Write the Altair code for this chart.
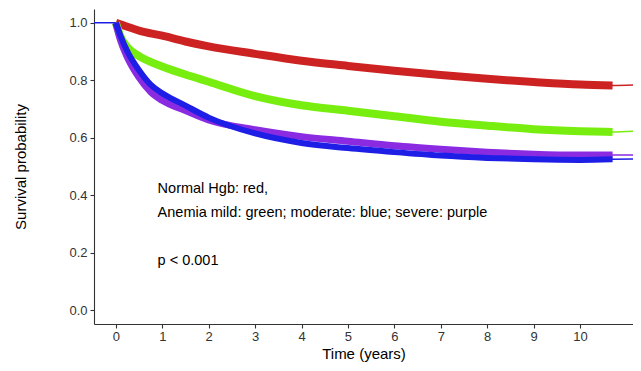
import altair as alt
import pandas as pd

# Kaplan-Meier curves (time in years, survival probability)
red_t = [0, 0.25, 0.5, 1, 1.5, 2, 3, 4, 5, 6, 7, 8, 9, 10, 10.7]
red_s = [1.0, 0.986, 0.973, 0.955, 0.935, 0.918, 0.892, 0.868, 0.850, 0.833, 0.818, 0.805, 0.794, 0.785, 0.782]

green_t = [0, 0.1, 0.25, 0.5, 0.75, 1, 1.5, 2, 3, 4, 5, 6, 7, 8, 9, 10, 10.7]
green_s = [1.0, 0.952, 0.915, 0.884, 0.864, 0.848, 0.820, 0.795, 0.745, 0.713, 0.694, 0.675, 0.656, 0.642, 0.630, 0.623, 0.620]

blue_t = [0, 0.1, 0.25, 0.5, 0.75, 1, 1.5, 2, 3, 4, 5, 6, 7, 8, 9, 10, 10.7]
blue_s = [1.0, 0.955, 0.90, 0.835, 0.785, 0.755, 0.712, 0.670, 0.615, 0.582, 0.564, 0.550, 0.538, 0.530, 0.525, 0.523, 0.525]

purple_t = [0, 0.1, 0.25, 0.5, 0.75, 1, 1.5, 2, 3, 4, 5, 6, 7, 8, 9, 10, 10.7]
purple_s = [1.0, 0.94, 0.88, 0.81, 0.76, 0.73, 0.695, 0.662, 0.628, 0.604, 0.588, 0.572, 0.560, 0.550, 0.543, 0.540, 0.540]

# final flat values after last event
end_t = 11.4
end_s = {"Normal": 0.785, "Mild": 0.625, "Severe": 0.54, "Moderate": 0.527}

groups = ["Normal", "Mild", "Moderate", "Severe"]
colors = ["#CD2222", "#78EE10", "#1E1EE6", "#8A2BE2"]

x_ticks = [0, 1, 2, 3, 4, 5, 6, 7, 8, 9, 10]
y_ticks = [0.0, 0.2, 0.4, 0.6, 0.8, 1.0]
x_domain = [-0.47, 11.14]
y_domain = [-0.048, 1.048]

notes = ["Normal Hgb: red,", "Anemia mild: green; moderate: blue; severe: purple", "p < 0.001"]
notes_y = [0.42, 0.338, 0.171]
notes_x = 0.9

series = {
    "Normal": (red_t, red_s),
    "Mild": (green_t, green_s),
    "Moderate": (blue_t, blue_s),
    "Severe": (purple_t, purple_s),
}

thick_rows, thin_rows = [], []
for g, (ts, ss) in series.items():
    for t, s in zip(ts, ss):
        thick_rows.append({"group": g, "t": t, "s": s})
        thin_rows.append({"group": g, "t": t, "s": s})
    thin_rows.append({"group": g, "t": end_t, "s": end_s[g]})
# blue line drawn from the axis to time 0
thin_rows.append({"group": "Moderate", "t": x_domain[0], "s": 1.0})

thick_df = pd.DataFrame(thick_rows)
thin_df = pd.DataFrame(thin_rows)
notes_df = pd.DataFrame({"x": [notes_x] * 3, "y": notes_y, "text": notes})

xscale = alt.Scale(domain=x_domain, nice=False, zero=False)
yscale = alt.Scale(domain=y_domain, nice=False, zero=False)
cscale = alt.Scale(domain=groups, range=colors)

common = dict(grid=False, domainColor="#333333", domainWidth=1.1, tickColor="#333333",
              tickWidth=1.1, labelColor="#333333", titleColor="#000000",
              labelFont="Liberation Sans", titleFont="Liberation Sans",
              titleFontWeight="normal", labelFontSize=13, titleFontSize=15, tickSize=4)

xaxis = alt.Axis(values=x_ticks, title="Time (years)", format="d", labelPadding=2,
                 titleBaseline="alphabetic", titleY=34, **common)
yaxis = alt.Axis(values=y_ticks, title="Survival probability", format=".1f",
                 labelPadding=3, titlePadding=40, **common)

thin = alt.Chart(thin_df).mark_line(strokeWidth=1.6, clip=True, interpolate="monotone").encode(
    x=alt.X("t:Q", scale=xscale, axis=xaxis),
    y=alt.Y("s:Q", scale=yscale, axis=yaxis),
    color=alt.Color("group:N", scale=cscale, legend=None),
    detail="group:N",
    order=alt.Order("t:Q"),
)

layers = [thin]
for g, w in [("Normal", 8), ("Mild", 8), ("Severe", 7), ("Moderate", 6)]:
    layers.append(
        alt.Chart(thick_df).transform_filter(alt.datum.group == g)
        .mark_line(strokeWidth=w, clip=True, interpolate="monotone", strokeCap="butt")
        .encode(
            x=alt.X("t:Q", scale=xscale),
            y=alt.Y("s:Q", scale=yscale),
            color=alt.Color("group:N", scale=cscale, legend=None),
            order=alt.Order("t:Q"),
        )
    )

text = alt.Chart(notes_df).mark_text(align="left", baseline="middle", fontSize=14.5,
                                    font="Liberation Sans", color="#000000").encode(
    x=alt.X("x:Q", scale=xscale),
    y=alt.Y("y:Q", scale=yscale),
    text="text:N",
)
layers.append(text)

chart = alt.layer(*layers).properties(
    width=539,
    height=315,
    background="white",
    autosize=alt.AutoSizeParams(type="none"),
    padding={"left": 86, "top": 1, "right": 0, "bottom": 39},
).configure_view(stroke=None)

chart.save("out.html", embed_options={"renderer": "svg", "actions": False})
